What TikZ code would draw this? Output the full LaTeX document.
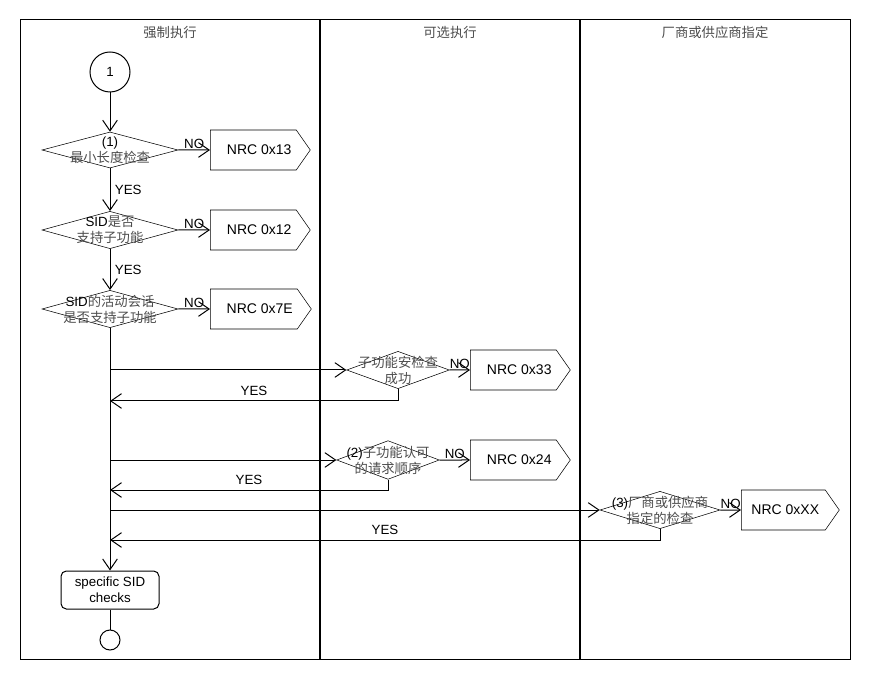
\documentclass[tikz,border=0pt]{standalone}
\usepackage{fontspec}
\setmainfont{Liberation Sans}
\newfontfamily\cjk{Noto Sans CJK SC}
\usetikzlibrary{arrows.meta,shapes.geometric,shapes.symbols}
\newcommand{\zh}[1]{{\cjk\color{black!70}#1}}

\begin{document}
\begin{tikzpicture}[x=0.75pt, y=-0.75pt, >={Straight Barb[length=8pt,width=11pt]},
    every node/.style={font=\fontsize{10}{12}\selectfont},
    dec/.style 2 args={draw, diamond, inner sep=0pt, minimum width=#1, minimum height=#2},
    dtext/.style={align=center, inner sep=0pt},
    nrc/.style={draw, signal, signal to=east, signal pointer angle=110,
        minimum width=75pt, minimum height=30pt, anchor=west,
        font=\fontsize{10.5}{12}\selectfont, execute at begin node={\hspace*{#1}}},
    nrc/.default=9pt,
    lbl/.style={inner sep=1pt}]
    \useasboundingbox (0,0) rectangle (870,680);

    % Swim lanes
    \draw [line width=0.75pt] (20,20) rectangle (850,659);
    \draw [line width=1.5pt] (320,20) -- (320,659);
    \draw [line width=1.5pt] (580,20) -- (580,659);
    \node (lane1) at (170,32) {\zh{强制执行}};
    \node (lane2) at (450,32) {\zh{可选执行}};
    \node (lane3) at (715,32) {\zh{厂商或供应商指定}};

    % Mandatory checks
    \node [circle, draw, line width=0.75pt, minimum size=30pt, inner sep=0pt] (start) at (110,72) {1};
    \node [dec={102pt}{27pt}, label={[dtext]center:{(1)\\\zh{最小长度检查}}}] (d1) at (110,150) {};
    \node [dec={102pt}{28pt}, label={[dtext]center:{SID\zh{是否}\\\zh{支持子功能}}}] (d2) at (110,230) {};
    \node [dec={102pt}{28pt}, label={[dtext]center:{SID\zh{的活动会话}\\\zh{是否支持子功能}}}] (d3) at (110,309) {};
    \node [nrc] (n13) at (210,150) {NRC 0x13};
    \node [nrc] (n12) at (210,230) {NRC 0x12};
    \node [nrc] (n7e) at (210,309) {NRC 0x7E};

    % Optional and vendor checks
    \node [dec={77pt}{28pt}, label={[dtext]center:{\zh{子功能安检查}\\\zh{成功}}}] (d4) at (398,370) {};
    \node [dec={77pt}{29pt}, label={[dtext]center:{(2)\zh{子功能认可}\\\zh{的请求顺序}}}] (d5) at (388,460) {};
    \node [dec={90pt}{28pt}, label={[dtext]center:{(3)\zh{厂商或供应商}\\\zh{指定的检查}}}] (d6) at (660,510) {};
    \node [nrc] (n33) at (470,370) {NRC 0x33};
    \node [nrc] (n24) at (470,460) {NRC 0x24};
    \node [nrc=3pt, minimum width=73.5pt] (nxx) at (741,510) {NRC 0xXX};

    \node [draw, line width=0.75pt, rounded corners=4pt, align=center, minimum width=73.5pt, minimum height=28.5pt] (chk) at (110,590) {specific SID\\checks};
    \node [circle, draw, line width=0.75pt, minimum size=15pt, inner sep=0pt] (stop) at (110,640) {};

    \coordinate (b4) at (110,370);
    \coordinate (r4) at (110,401);
    \coordinate (b5) at (110,460);
    \coordinate (r5) at (110,490);
    \coordinate (b6) at (110,510);
    \coordinate (r6) at (110,540);

    % Connectors
    \begin{scope}[line width=0.75pt]
        \draw [->] (start) -- (d1);
        \draw [->] (d1) -- node [lbl, above] {NO} (n13);
        \draw [->] (d1) -- node [right] {YES} (d2);
        \draw [->] (d2) -- node [lbl, above] {NO} (n12);
        \draw [->] (d2) -- node [right] {YES} (d3);
        \draw [->] (d3) -- node [lbl, above] {NO} (n7e);
        \draw [->] (d3) -- (chk);
        \draw (chk) -- (stop);

        \draw [->] (b4) -- (d4);
        \draw [->] (d4) -- node [lbl, above] {NO} (n33);
        \draw [->] (d4) |- node [pos=0.75, above] {YES} (r4);
        \draw [->] (b5) -- (d5);
        \draw [->] (d5) -- node [lbl, above] {NO} (n24);
        \draw [->] (d5) |- node [pos=0.75, above] {YES} (r5);
        \draw [->] (b6) -- (d6);
        \draw [->] (d6) -- node [lbl, above] {NO} (nxx);
        \draw [->] (d6) |- node [pos=0.75, above] {YES} (r6);
    \end{scope}
\end{tikzpicture}
\end{document}
